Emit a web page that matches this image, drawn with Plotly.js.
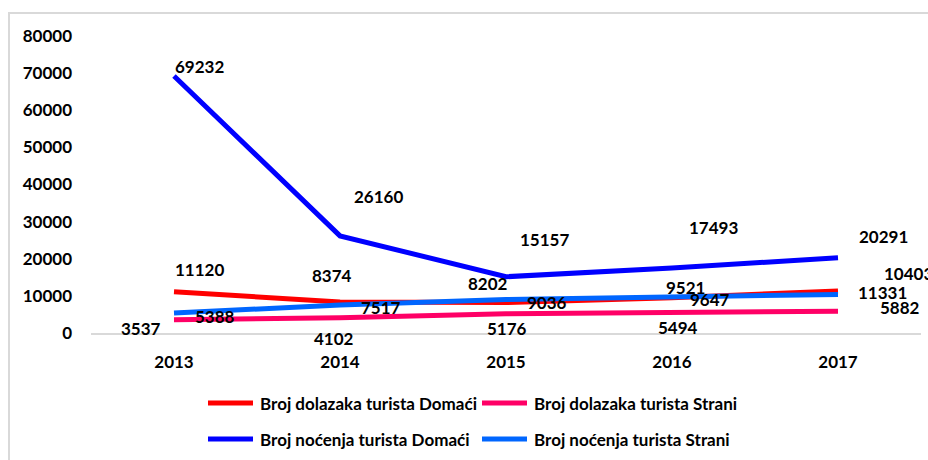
<!DOCTYPE html>
<html>
<head>
<meta charset="utf-8">
<script src="https://cdn.plot.ly/plotly-3.0.1.min.js"></script>
<style>
  html, body { margin: 0; padding: 0; background: #ffffff; }
  #chart { width: 928px; height: 460px; }
</style>
</head>
<body>
<div id="chart"></div>
<script>
// ---- data ----
const years = ['2013', '2014', '2015', '2016', '2017'];
const seriesNames = [
  'Broj dolazaka turista Domaći',
  'Broj dolazaka turista Strani',
  'Broj noćenja turista Domaći',
  'Broj noćenja turista Strani'
];
const dolasciDomaci = [11120, 8374, 8202, 9521, 11331];
const dolasciStrani = [3537, 4102, 5176, 5494, 5882];
const nocenjaDomaci = [69232, 26160, 15157, 17493, 20291];
const nocenjaStrani = [5388, 7517, 9036, 9647, 10403];
const yTickValues = [0, 10000, 20000, 30000, 40000, 50000, 60000, 70000, 80000];

// ---- styles ----
const colors = ['#ff0000', '#ff0066', '#0000ff', '#0066ff'];
// label offsets in px (dx right, dy down) for each series/point
const labelOffsets = [
  [[25, -22], [-8, -26], [-18, -19], [13, -10], [44, 2]],
  [[-33, 9], [-6, 21], [1, 15], [6, 15], [62, -4]],
  [[25, -9], [38, -39], [38, -37], [41, -41], [45, -21]],
  [[41, 3], [41, 2], [41, 3], [38, 2], [70, -21]]
];
const FONT = 'Lato, "Open Sans", sans-serif';
const allSeries = [dolasciDomaci, dolasciStrani, nocenjaDomaci, nocenjaStrani];

const M = { l: 91, r: 7, t: 36, b: 127 };
const PW = 928 - M.l - M.r, PH = 460 - M.t - M.b;
const px2x = px => (px - M.l) / PW;
const py2y = py => (460 - M.b - py) / PH;

const traces = allSeries.map((vals, i) => ({
  type: 'scatter',
  mode: 'lines',
  x: years,
  y: vals,
  name: seriesNames[i],
  line: { color: colors[i], width: 5 },
  showlegend: false,
  hoverinfo: 'x+y+name'
}));

const annotations = [];
allSeries.forEach((vals, i) => {
  vals.forEach((v, j) => {
    annotations.push({
      x: j, y: v, xref: 'x', yref: 'y',   // j = index of category years[j]
      text: '<b>' + v + '</b>', showarrow: false,
      xanchor: 'center', yanchor: 'middle',
      xshift: labelOffsets[i][j][0], yshift: -labelOffsets[i][j][1],
      font: { family: FONT, size: 17, color: '#000000' }
    });
  });
});

// custom legend (2 x 2 grid)
const legendRows = [403, 439];
const legendCols = [[208, 253, 258], [482, 527, 532]];
const shapes = [];
// chart frame
shapes.push({
  type: 'rect', xref: 'paper', yref: 'paper', layer: 'below',
  x0: px2x(9), x1: px2x(960), y0: py2y(500), y1: py2y(13),
  line: { color: '#d9d9d9', width: 2 }, fillcolor: 'rgba(0,0,0,0)'
});
seriesNames.forEach((name, i) => {
  const row = Math.floor(i / 2), col = i % 2;
  const yy = py2y(legendRows[row]);
  shapes.push({
    type: 'line', xref: 'paper', yref: 'paper',
    x0: px2x(legendCols[col][0]), x1: px2x(legendCols[col][1]), y0: yy, y1: yy,
    line: { color: colors[i], width: 5 }
  });
  annotations.push({
    xref: 'paper', yref: 'paper', x: px2x(legendCols[col][2]), y: yy,
    xanchor: 'left', yanchor: 'middle', showarrow: false,
    text: '<b>' + name + '</b>',
    font: { family: FONT, size: 17, color: '#000000' }
  });
});

const layout = {
  width: 928, height: 460,
  margin: M,
  paper_bgcolor: '#ffffff', plot_bgcolor: '#ffffff',
  showlegend: false,
  font: { family: FONT, size: 17, color: '#000000' },
  xaxis: {
    type: 'category', range: [-0.5, 4.5],
    showgrid: false, zeroline: false,
    showline: true, linecolor: '#d9d9d9', linewidth: 2,
    ticks: '', ticklabelstandoff: 13,
    tickfont: { family: FONT, size: 17, color: '#000000', weight: 'bold' },
    fixedrange: true
  },
  yaxis: {
    range: [0, 80000], tickvals: yTickValues, ticktext: yTickValues.map(String),
    showgrid: false, zeroline: false, showline: false,
    ticks: '', ticklabelstandoff: 18,
    tickfont: { family: FONT, size: 17, color: '#000000', weight: 'bold' },
    fixedrange: true
  },
  shapes: shapes,
  annotations: annotations
};

Plotly.newPlot('chart', traces, layout, { displayModeBar: false, staticPlot: true });
</script>
</body>
</html>
